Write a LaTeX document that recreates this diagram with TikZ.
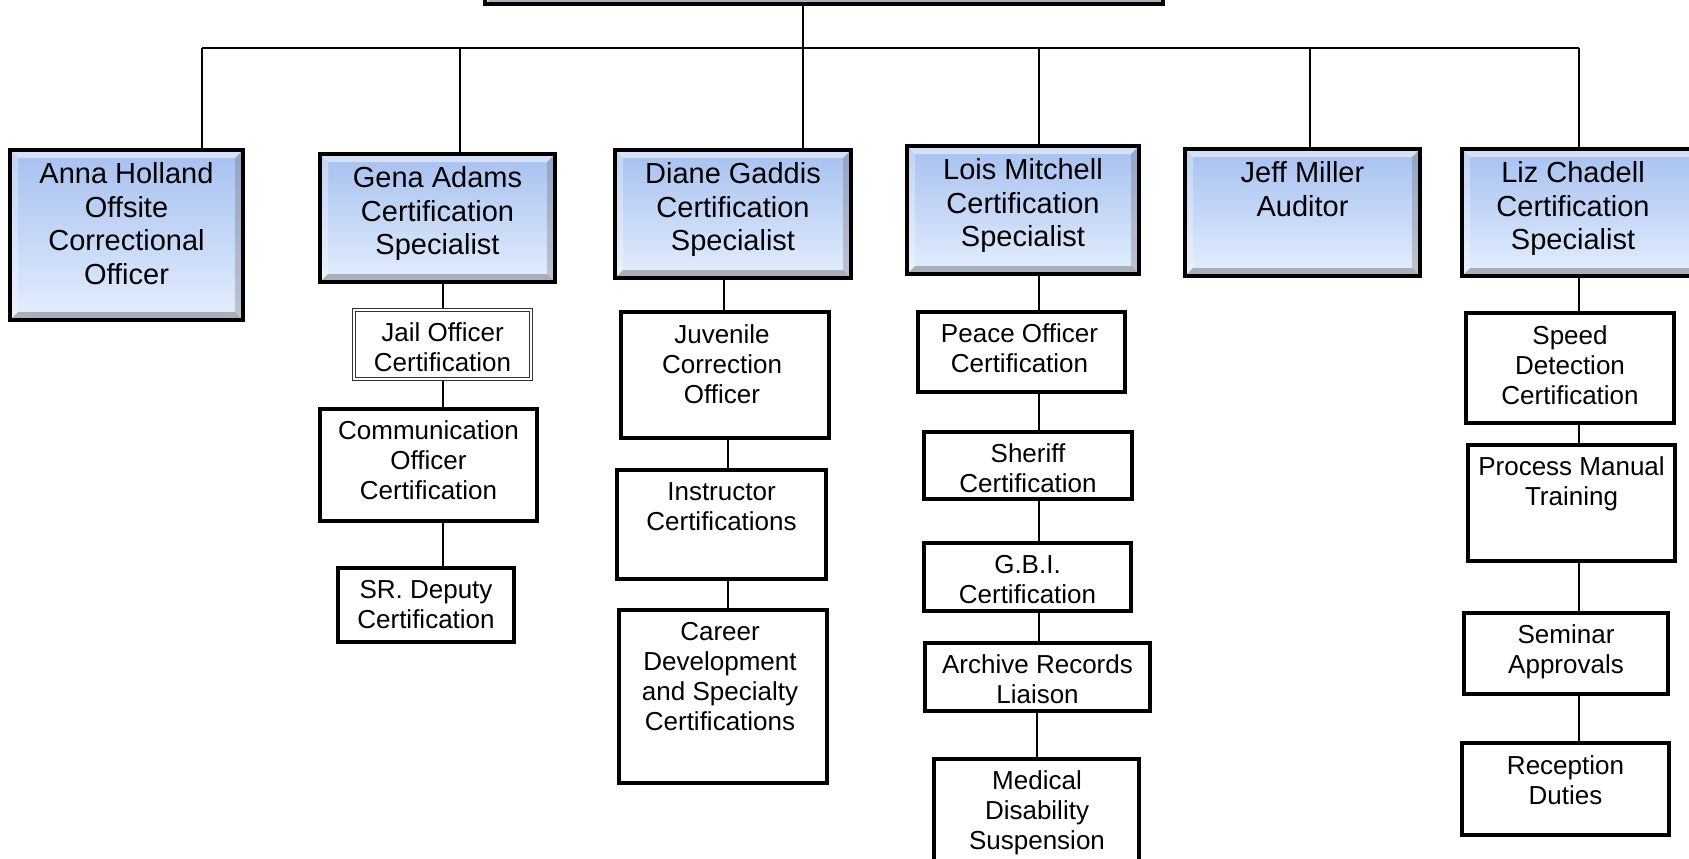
\documentclass[tikz,border=0pt]{standalone}
\usepackage{fontspec}
\setmainfont{Liberation Sans}
\usetikzlibrary{fit,backgrounds,shadows}
\definecolor{bTop}{RGB}{166,192,240}
\definecolor{bBot}{RGB}{228,238,253}
\tikzset{
  bluebox/.style={draw=black, line width=2.2pt, top color=bTop, bottom color=bBot, inner sep=0pt,
    drop shadow={shadow xshift=1.2pt, shadow yshift=-1.2pt, opacity=0.35, fill=black!70},
    path picture={
      \fill[white,opacity=0.5] (path picture bounding box.north west) -- (path picture bounding box.north east)
        -- ([xshift=-4pt,yshift=-4pt]path picture bounding box.north east) -- ([xshift=4pt,yshift=-4pt]path picture bounding box.north west) -- cycle;
      \fill[white,opacity=0.3] (path picture bounding box.north west) -- ([xshift=4pt,yshift=-4pt]path picture bounding box.north west)
        -- ([xshift=4pt,yshift=4pt]path picture bounding box.south west) -- (path picture bounding box.south west) -- cycle;
      \fill[black!60,opacity=0.3] (path picture bounding box.north east) -- ([xshift=-4pt,yshift=-4pt]path picture bounding box.north east)
        -- ([xshift=-4pt,yshift=4pt]path picture bounding box.south east) -- (path picture bounding box.south east) -- cycle;
      \fill[black!60,opacity=0.45] (path picture bounding box.south west) -- (path picture bounding box.south east)
        -- ([xshift=-4pt,yshift=4pt]path picture bounding box.south east) -- ([xshift=4pt,yshift=4pt]path picture bounding box.south west) -- cycle;
    }},
  whitebox/.style={draw=black, line width=1.7pt, fill=white, inner sep=0pt},
  dblbox/.style={draw=black!80, line width=0.5pt, double=white, double distance=1.3pt, fill=white, inner sep=0pt},
  btext/.style={font=\fontsize{14.5}{16.7}\selectfont, align=center, anchor=north, inner sep=0pt},
  wtext/.style={font=\fontsize{13}{15}\selectfont, align=center, anchor=north, inner sep=0pt},
  conn/.style={draw=black, line width=1pt},
}
\begin{document}
\begin{tikzpicture}[x=0.5pt,y=-0.5pt]
\useasboundingbox (0,0) rectangle (1689,858);
\clip (0,0) rectangle (1689,858);

% blue boxes
\node[bluebox, fit={(485,-100) (1163,4)}] (top) {};
\node[bluebox, fit={(10,150) (243,320)}] (anna) {};
\node[bluebox, fit={(320,154) (555,282)}] (gena) {};
\node[bluebox, fit={(615,150) (851,278)}] (diane) {};
\node[bluebox, fit={(907,146) (1139,274)}] (lois) {};
\node[bluebox, fit={(1185,149) (1420,276)}] (jeff) {};
\node[bluebox, fit={(1462,149) (1700,276)}] (liz) {};

\node[btext] (annaT) at ([yshift=-7.3pt]anna.north) {Anna Holland\\Offsite\\Correctional\\Officer};
\node[btext] (genaT) at ([yshift=-7.3pt]gena.north) {Gena Adams\\Certification\\Specialist};
\node[btext] (dianeT) at ([yshift=-7.3pt]diane.north) {Diane Gaddis\\Certification\\Specialist};
\node[btext] (loisT) at ([yshift=-7.3pt]lois.north) {Lois Mitchell\\Certification\\Specialist};
\node[btext] (jeffT) at ([yshift=-7.3pt]jeff.north) {Jeff Miller\\Auditor};
\node[btext] (lizT) at ([xshift=-4pt,yshift=-7.3pt]liz.north) {Liz Chadell\\Certification\\Specialist};

% Gena column
\node[dblbox, fit={(354,310) (531,379)}] (jail) {};
\node[whitebox, fit={(320,409) (537,521)}] (comm) {};
\node[whitebox, fit={(338,568) (514,642)}] (srd) {};
% Diane column
\node[whitebox, fit={(621,312) (829,438)}] (juv) {};
\node[whitebox, fit={(617,470) (826,579)}] (inst) {};
\node[whitebox, fit={(619,610) (827,783)}] (career) {};
% Lois column
\node[whitebox, fit={(918,312) (1125,392)}] (peace) {};
\node[whitebox, fit={(924,432) (1132,499)}] (sheriff) {};
\node[whitebox, fit={(924,543) (1131,611)}] (gbi) {};
\node[whitebox, fit={(925,643) (1150,711)}] (archive) {};
\node[whitebox, fit={(934,759) (1139,880)}] (medical) {};
% Liz column
\node[whitebox, fit={(1466,313) (1674,423)}] (speed) {};
\node[whitebox, fit={(1468,445) (1675,561)}] (process) {};
\node[whitebox, fit={(1464,613) (1668,694)}] (seminar) {};
\node[whitebox, fit={(1462,743) (1669,835)}] (reception) {};

\node[wtext] (jailT) at ([yshift=-6.4pt]jail.north) {Jail Officer\\Certification};
\node[wtext] (commT) at ([yshift=-6.7pt]comm.north) {Communication\\Officer\\Certification};
\node[wtext] (srdT) at ([yshift=-6.7pt]srd.north) {SR. Deputy\\Certification};
\node[wtext] (juvT) at ([xshift=-1.5pt,yshift=-7pt]juv.north) {Juvenile\\Correction\\Officer};
\node[wtext] (instT) at ([yshift=-6.7pt]inst.north) {Instructor\\Certifications};
\node[wtext] (careerT) at ([xshift=-1.5pt,yshift=-6.7pt]career.north) {Career\\Development\\and Specialty\\Certifications};
\node[wtext] (peaceT) at ([xshift=-1pt,yshift=-6.7pt]peace.north) {Peace Officer\\Certification};
\node[wtext] (sheriffT) at ([yshift=-6.7pt]sheriff.north) {Sheriff\\Certification};
\node[wtext] (gbiT) at ([yshift=-6.7pt]gbi.north) {G.B.I.\\Certification};
\node[wtext] (archiveT) at ([yshift=-6.7pt]archive.north) {Archive Records\\Liaison};
\node[wtext] (medicalT) at ([yshift=-6.7pt]medical.north -| 1037,0) {Medical\\Disability\\Suspension};
\node[wtext] (speedT) at ([yshift=-7pt]speed.north) {Speed\\Detection\\Certification};
\node[wtext] (processT) at ([yshift=-6.7pt]process.north) {Process Manual\\Training};
\node[wtext] (seminarT) at ([yshift=-6.7pt]seminar.north) {Seminar\\Approvals};
\node[wtext] (receptionT) at ([yshift=-7pt]reception.north) {Reception\\Duties};

% connector coordinates
\coordinate (bA) at (202,48);
\coordinate (bG) at (460,48);
\coordinate (bD) at (803,48);
\coordinate (bL) at (1039,48);
\coordinate (bJ) at (1310,48);
\coordinate (bZ) at (1579,48);
\coordinate (xG) at (443,0);
\coordinate (xD1) at (724,0);
\coordinate (xD2) at (728,0);
\coordinate (xL) at (1039,0);
\coordinate (xL2) at (1037,0);
\coordinate (xZ) at (1579,0);

\begin{scope}[on background layer]
\draw[conn] (bA) -- (bZ);
\draw[conn] (top.south -| bD) -- (bD);
\draw[conn] (bA) -- (anna.north -| bA);
\draw[conn] (bG) -- (gena.north -| bG);
\draw[conn] (bD) -- (diane.north -| bD);
\draw[conn] (bL) -- (lois.north -| bL);
\draw[conn] (bJ) -- (jeff.north -| bJ);
\draw[conn] (bZ) -- (liz.north -| bZ);

\draw[conn] (gena.south -| xG) -- (jail.north -| xG);
\draw[conn] (jail.south -| xG) -- (comm.north -| xG);
\draw[conn] (comm.south -| xG) -- (srd.north -| xG);

\draw[conn] (diane.south -| xD1) -- (juv.north -| xD1);
\draw[conn] (juv.south -| xD2) -- (inst.north -| xD2);
\draw[conn] (inst.south -| xD2) -- (career.north -| xD2);

\draw[conn] (lois.south -| xL) -- (peace.north -| xL);
\draw[conn] (peace.south -| xL) -- (sheriff.north -| xL);
\draw[conn] (sheriff.south -| xL) -- (gbi.north -| xL);
\draw[conn] (gbi.south -| xL) -- (archive.north -| xL);
\draw[conn] (archive.south -| xL2) -- (medical.north -| xL2);

\draw[conn] (liz.south -| xZ) -- (speed.north -| xZ);
\draw[conn] (speed.south -| xZ) -- (process.north -| xZ);
\draw[conn] (process.south -| xZ) -- (seminar.north -| xZ);
\draw[conn] (seminar.south -| xZ) -- (reception.north -| xZ);
\end{scope}
\end{tikzpicture}
\end{document}
